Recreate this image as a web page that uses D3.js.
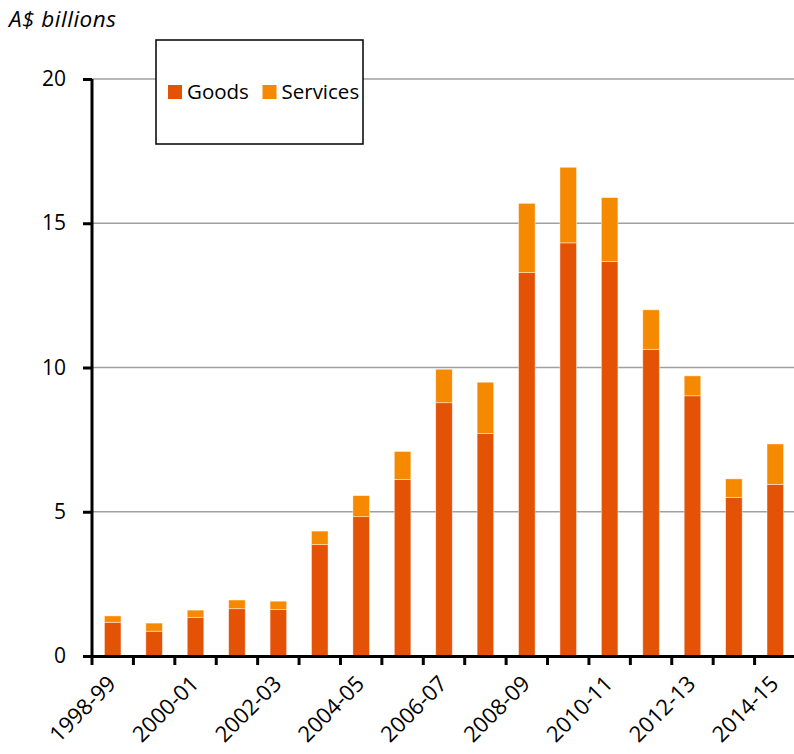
<!DOCTYPE html>
<html><head><meta charset="utf-8">
<script src="https://cdn.jsdelivr.net/npm/d3@7"></script>
<style>body{margin:0;background:#fff}svg{display:block}</style>
</head><body>
<script>
const categories = ["1998-99","1999-00","2000-01","2001-02","2002-03","2003-04","2004-05","2005-06","2006-07","2007-08","2008-09","2009-10","2010-11","2011-12","2012-13","2013-14","2014-15"];
const goods    = [1.17,0.86,1.34,1.64,1.61,3.86,4.83,6.12,8.78,7.71,13.29,14.32,13.67,10.63,9.02,5.50,5.95];
const services = [0.22,0.28,0.25,0.30,0.29,0.47,0.73,0.97,1.16,1.78,2.40,2.62,2.22,1.37,0.69,0.64,1.40];
const yTicks = [0,5,10,15,20];
const seriesNames = ["Goods","Services"];
const colors = ["#E35205","#F58A00"];

const W=794,H=754;
const svg=d3.select("body").append("svg").attr("width",W).attr("height",H);
const font="'Open Sans', sans-serif";

const x=d3.scaleBand().domain(categories).range([92,796]).paddingInner(0.6).paddingOuter(0.3);
const y=d3.scaleLinear().domain([0,20]).range([656,79]);

// gridlines
svg.append("g").selectAll("line").data(yTicks.filter(d=>d>0)).join("line")
  .attr("x1",92).attr("x2",796).attr("y1",d=>y(d)).attr("y2",d=>y(d))
  .attr("stroke","#a0a0a0").attr("stroke-width",1.5);

// stacked bars
const data=categories.map((c,i)=>({cat:c,Goods:goods[i],Services:services[i]}));
const stack=d3.stack().keys(seriesNames)(data);
svg.append("g").selectAll("g").data(stack).join("g").attr("fill",(d,i)=>colors[i])
  .selectAll("rect").data(d=>d).join("rect")
  .attr("x",d=>x(d.data.cat)).attr("width",x.bandwidth())
  .attr("y",d=>y(d[1])).attr("height",d=>y(d[0])-y(d[1]))
  .attr("stroke","rgba(255,255,255,0.55)").attr("stroke-width",0.8);

// y axis
const ya=svg.append("g").attr("transform","translate(92,0)")
  .call(d3.axisLeft(y).tickValues(yTicks).tickSize(9).tickPadding(17).tickFormat(d3.format("d")));
ya.select(".domain").attr("stroke","#000").attr("stroke-width",3).attr("d","M0,79V656");
ya.selectAll(".tick line").attr("stroke","#000").attr("stroke-width",3);
ya.selectAll("text").attr("font-family",font).attr("font-size",21).attr("fill","#000");

// x axis
const step=x.step();
const bounds=d3.range(categories.length).map(i=>92+i*step);
const xg=svg.append("g");
xg.append("line").attr("x1",83).attr("x2",796).attr("y1",656.5).attr("y2",656.5).attr("stroke","#000").attr("stroke-width",3);
xg.selectAll(".tk").data(bounds).join("line").attr("class","tk")
  .attr("x1",d=>d).attr("x2",d=>d).attr("y1",656).attr("y2",665).attr("stroke","#000").attr("stroke-width",3);
xg.selectAll("text").data(categories.filter((c,i)=>i%2===0)).join("text")
  .attr("transform",d=>`translate(${x(d)+x.bandwidth()/2+4.5},${685}) rotate(-45)`)
  .attr("text-anchor","end").attr("font-family",font).attr("font-size",22).attr("fill","#000")
  .text(d=>d);

// y title
svg.append("text").attr("x",9).attr("y",27).attr("font-family",font).attr("font-style","italic")
  .attr("font-size",22.5).attr("letter-spacing",0.5).text("A$ billions");

// legend
const lg=svg.append("g");
lg.append("rect").attr("x",156).attr("y",40).attr("width",207).attr("height",104)
  .attr("fill","#fff").attr("stroke","#000").attr("stroke-width",1.5);
const lx=[168,262.5];
seriesNames.forEach((n,i)=>{
  lg.append("rect").attr("x",lx[i]).attr("y",85).attr("width",14).attr("height",14).attr("fill",colors[i]);
  lg.append("text").attr("x",lx[i]+19).attr("y",99).attr("font-family",font).attr("font-size",20.5).text(n);
});
</script>
</body></html>
